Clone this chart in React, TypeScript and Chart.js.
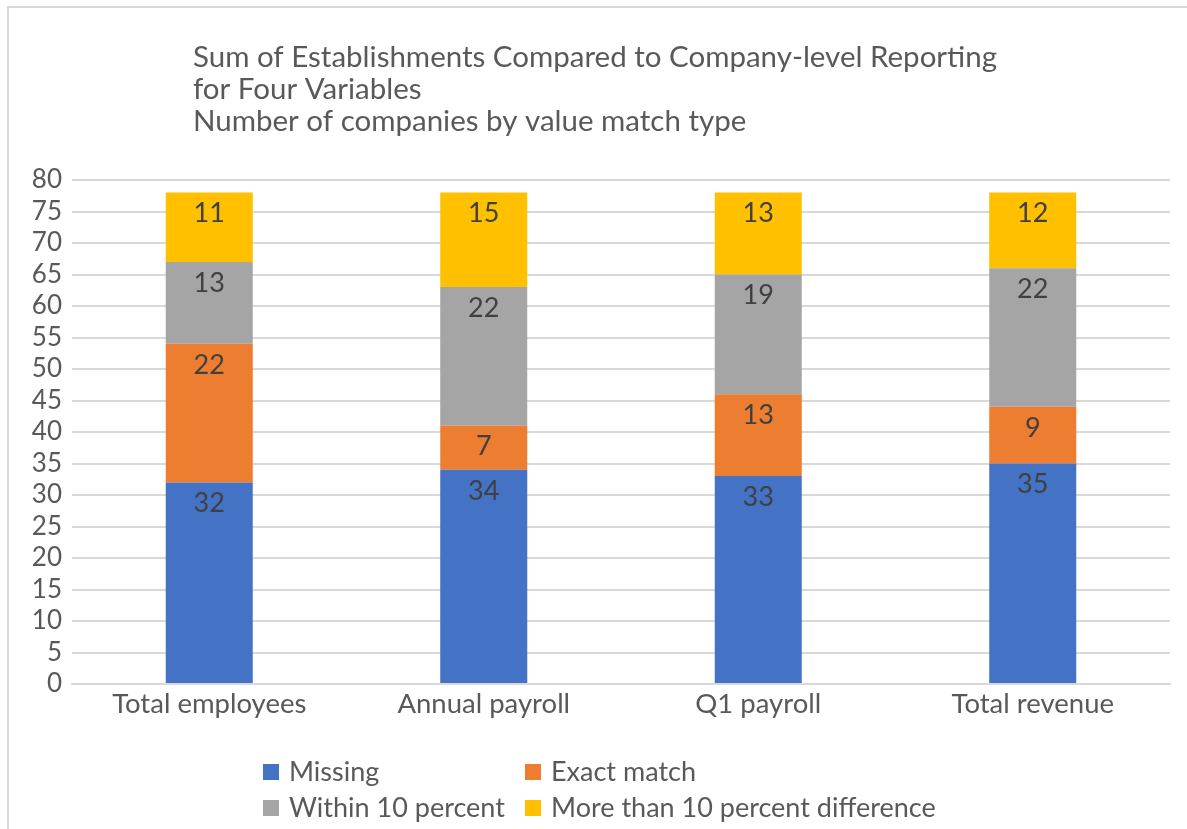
import React, { useEffect, useRef } from "react";
import { Chart, registerables } from "chart.js";

Chart.register(...registerables);

const categories = ["Total employees", "Annual payroll", "Q1 payroll", "Total revenue"];
const seriesNames = ["Missing", "Exact match", "Within 10 percent", "More than 10 percent difference"];
const missing = [32, 34, 33, 35];
const exactMatch = [22, 7, 13, 9];
const within10 = [13, 22, 19, 22];
const moreThan10 = [11, 15, 13, 12];
const seriesColors = ["#4472C4", "#ED7D31", "#A5A5A5", "#FFC000"];
const titleLines = [
  "Sum of Establishments Compared to Company-level Reporting",
  "for Four Variables",
  "Number of companies by value match type",
];

const FONT = "Lato, 'Noto Sans', sans-serif";

const titlePlugin = {
  id: "customTitle",
  afterDraw(chart: any) {
    const ctx = chart.ctx;
    ctx.save();
    ctx.fillStyle = "#595959";
    ctx.font = `29.5px ${FONT}`;
    ctx.textAlign = "left";
    ctx.textBaseline = "middle";
    titleLines.forEach((t, i) => ctx.fillText(t, 193, 57 + i * 32));
    ctx.restore();
  },
};

const labelPlugin = {
  id: "segLabels",
  afterDatasetsDraw(chart: any) {
    const ctx = chart.ctx;
    ctx.save();
    ctx.fillStyle = "#404040";
    ctx.font = `27px ${FONT}`;
    ctx.textAlign = "center";
    ctx.textBaseline = "middle";
    chart.data.datasets.forEach((ds: any, di: number) => {
      const meta = chart.getDatasetMeta(di);
      meta.data.forEach((el: any, i: number) => {
        ctx.fillText(String(ds.data[i]), el.x, el.y + 21);
      });
    });
    ctx.restore();
  },
};

const legendPlugin = {
  id: "gridLegend",
  afterDraw(chart: any) {
    const ctx = chart.ctx;
    ctx.save();
    ctx.font = `27px ${FONT}`;
    ctx.textAlign = "left";
    ctx.textBaseline = "middle";
    const cols = [263, 525];
    const rows = [772, 808];
    chart.data.datasets.forEach((ds: any, i: number) => {
      const x = cols[i % 2];
      const y = rows[Math.floor(i / 2)];
      ctx.fillStyle = ds.backgroundColor;
      ctx.fillRect(x, y - 8, 16, 16);
      ctx.fillStyle = "#595959";
      ctx.fillText(ds.label, x + 26, y);
    });
    ctx.restore();
  },
};

export default function App() {
  const ref = useRef<HTMLCanvasElement | null>(null);
  useEffect(() => {
    if (!ref.current) return;
    const values = [missing, exactMatch, within10, moreThan10];
    const chart = new Chart(ref.current, {
      type: "bar",
      data: {
        labels: categories,
        datasets: values.map((v, i) => ({
          label: seriesNames[i],
          data: v,
          backgroundColor: seriesColors[i],
          borderWidth: 0,
          categoryPercentage: 1,
          barPercentage: 0.317,
        })),
      },
      options: {
        animation: false,
        responsive: false,
        maintainAspectRatio: false,
        layout: { padding: { top: 180, right: 17, left: 0, bottom: 0 } },
        plugins: {
          legend: { display: false },
          title: { display: false },
          tooltip: { enabled: false },
        },
        scales: {
          x: {
            stacked: true,
            grid: { display: false, drawTicks: false },
            border: { display: true, color: "#d9d9d9", width: 2 },
            ticks: { color: "#595959", font: { family: FONT, size: 27.5 }, padding: 4 },
            afterFit: (s: any) => {
              s.height = 145;
            },
          },
          y: {
            stacked: true,
            min: 0,
            max: 80,
            grid: { color: "#d9d9d9", lineWidth: 2, drawTicks: false },
            border: { display: false },
            ticks: {
              stepSize: 5,
              autoSkip: false,
              color: "#595959",
              font: { family: FONT, size: 26 },
              padding: 10,
            },
            afterFit: (s: any) => {
              s.width = 72;
            },
          },
        },
      },
      plugins: [titlePlugin, labelPlugin, legendPlugin],
    });
    return () => chart.destroy();
  }, []);

  return (
    <div style={{ position: "fixed", left: 0, top: 0, width: 1187, height: 829, overflow: "hidden", background: "#fff" }}>
      <div
        style={{
          position: "absolute",
          left: 7,
          top: 6,
          width: 1400,
          height: 1000,
          border: "2px solid #d9d9d9",
          boxSizing: "border-box",
        }}
      />
      <canvas ref={ref} width={1187} height={829} style={{ position: "absolute", left: 0, top: 0, width: 1187, height: 829 }} />
    </div>
  );
}
